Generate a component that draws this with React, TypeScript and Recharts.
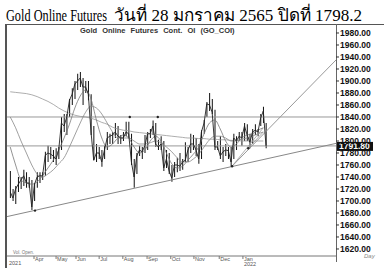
import {
  ComposedChart,
  Bar,
  Line,
  XAxis,
  YAxis,
  ReferenceLine,
  ReferenceDot,
} from 'recharts';

// half-week bars, Mar 2021 - Jan 2022 (two per week: Mon-Wed, Thu-Fri)
const highs = [
  1750, 1720, 1725, 1740, 1740, 1752, 1748, 1740, 1735, 1730, 1748, 1748, 1748, 1782, 1792, 1790, 1785, 1788, 1790, 1840,
  1845, 1845, 1870, 1888, 1900, 1912, 1915, 1905, 1900, 1900, 1878, 1825, 1795, 1790, 1785, 1792, 1815, 1812, 1815, 1830,
  1825, 1810, 1815, 1832, 1832, 1812, 1770, 1780, 1792, 1790, 1810, 1815, 1820, 1834, 1830, 1802, 1808, 1800, 1785, 1780,
  1760, 1765, 1772, 1780, 1770, 1798, 1790, 1812, 1810, 1805, 1795, 1818, 1835, 1865, 1880, 1870, 1852, 1800, 1808, 1790,
  1795, 1790, 1790, 1812, 1808, 1815, 1815, 1830, 1828, 1812, 1820, 1828, 1820, 1845, 1857, 1830,
];
const lows = [
  1705, 1700, 1695, 1715, 1720, 1725, 1722, 1722, 1685, 1700, 1722, 1730, 1735, 1742, 1765, 1770, 1765, 1760, 1770, 1785,
  1815, 1810, 1840, 1860, 1870, 1885, 1890, 1860, 1880, 1868, 1810, 1768, 1765, 1770, 1757, 1770, 1785, 1795, 1795, 1805,
  1795, 1795, 1800, 1808, 1805, 1760, 1722, 1745, 1775, 1770, 1780, 1785, 1805, 1810, 1790, 1785, 1785, 1750, 1755, 1745,
  1732, 1740, 1748, 1750, 1752, 1765, 1765, 1780, 1785, 1775, 1762, 1770, 1812, 1840, 1850, 1845, 1785, 1785, 1770, 1765,
  1775, 1770, 1758, 1770, 1785, 1800, 1792, 1800, 1800, 1788, 1795, 1810, 1808, 1825, 1830, 1788,
];
const closes = [
  1715, 1705, 1720, 1728, 1735, 1742, 1730, 1730, 1690, 1728, 1740, 1742, 1742, 1776, 1780, 1778, 1775, 1770, 1785, 1830,
  1825, 1840, 1868, 1878, 1895, 1900, 1905, 1890, 1890, 1878, 1815, 1768, 1780, 1780, 1765, 1785, 1805, 1808, 1810, 1815,
  1808, 1805, 1805, 1815, 1812, 1765, 1740, 1775, 1785, 1782, 1792, 1812, 1812, 1825, 1795, 1790, 1795, 1755, 1770, 1750,
  1738, 1760, 1760, 1758, 1765, 1768, 1785, 1795, 1795, 1785, 1770, 1815, 1830, 1862, 1860, 1848, 1790, 1790, 1775, 1782,
  1785, 1784, 1765, 1805, 1800, 1808, 1805, 1825, 1810, 1798, 1815, 1818, 1815, 1838, 1850, 1791.8,
];

// moving averages, one value per week
const maShort = [1790, 1760, 1735, 1730, 1728, 1732, 1742, 1755, 1768, 1785, 1805, 1828, 1855, 1875, 1885, 1870, 1835, 1805, 1790, 1795, 1805, 1810, 1805, 1790, 1780, 1785, 1800, 1808, 1800, 1780, 1762, 1755, 1758, 1768, 1778, 1790, 1812, 1830, 1835, 1820, 1800, 1790, 1795, 1805, 1810, 1812, 1818, 1822];
const maMid = [1840, 1822, 1800, 1780, 1760, 1745, 1740, 1745, 1752, 1762, 1772, 1790, 1810, 1830, 1848, 1858, 1855, 1845, 1830, 1815, 1805, 1805, 1805, 1800, 1795, 1795, 1797, 1800, 1797, 1790, 1782, 1772, 1765, 1765, 1770, 1778, 1790, 1802, 1808, 1808, 1805, 1800, 1800, 1803, 1805, 1808, 1812, 1815];
const maLong = [1882, 1881, 1880, 1879, 1877, 1874, 1870, 1866, 1861, 1855, 1850, 1846, 1843, 1841, 1840, 1838, 1835, 1831, 1828, 1823, 1820, 1818, 1817, 1815, 1814, 1813, 1812, 1811, 1810, 1809, 1808, 1807, 1806, 1805, 1805, 1804, 1804, 1803, 1803, 1802, 1802, 1801, 1801, 1800, 1800, 1800, 1800, 1800];

// month label positions in week units
const monthTicks = [4.8, 8.9, 12.6, 16.9, 21.3, 25.8, 30.2, 34.5, 39.2, 43.6];
const monthNames = ['Apr', 'May', 'Jun', 'Jul', 'Aug', 'Sep', 'Oct', 'Nov', 'Dec', 'Jan'];
const priceTicks = [1620, 1640, 1660, 1680, 1700, 1720, 1740, 1760, 1780, 1800, 1820, 1840, 1860, 1880, 1900, 1920, 1940, 1960, 1980];

const lastPrice = 1791.8;

const data = closes.map((c, i) => {
  const wk = Math.floor(i / 2);
  const first = i % 2 === 0;
  return {
    w: wk + (first ? 0.2 : 0.7),
    range: [lows[i], highs[i]],
    close: c,
    maShort: first ? maShort[wk] : null,
    maMid: first ? maMid[wk] : null,
    maLong: first ? maLong[wk] : null,
  };
});

const sans = 'Liberation Sans, Arial, sans-serif';

const YTick = (props: any) => {
  const { x, y, payload } = props;
  return (
    <g>
      <line x1={336} x2={339} y1={y} y2={y} stroke="#333" />
      <text x={x + 1} y={y + 3} fontSize={8.5} fontWeight="bold" fontFamily={sans} fill="#111">
        {payload.value.toFixed(2)}
      </text>
    </g>
  );
};

const XTick = (props: any) => {
  const { x, payload } = props;
  const name = monthNames[monthTicks.indexOf(payload.value)];
  return (
    <g>
      <line x1={x - 1} x2={x - 1} y1={256} y2={259} stroke="#777" />
      <text x={x} y={261} fontSize={5.5} fontFamily={sans} fill="#555">
        {name}
      </text>
      {name === 'Jan' && (
        <text x={x} y={266} fontSize={5.5} fontFamily={sans} fill="#555">2022</text>
      )}
    </g>
  );
};

const LastBox = (props: any) => {
  const { viewBox } = props;
  const y = viewBox.y;
  return (
    <g>
      <rect x={337} y={y - 4} width={36} height={9} fill="#111" />
      <text x={339} y={y + 3.5} fontSize={8.5} fontWeight="bold" fontFamily={sans} fill="#fff">
        {lastPrice.toFixed(2)}
      </text>
    </g>
  );
};

export default function App() {
  return (
    <div style={{ position: 'absolute', left: 0, top: 0, width: 384, height: 268, background: '#fff', overflow: 'hidden' }}>
      <svg width={384} height={26} style={{ position: 'absolute', left: 0, top: 0 }}>
        <text y={21} fontSize={17} fontFamily="Liberation Serif, Times New Roman, serif" fill="#000">
          <tspan x={6} textLength={101} lengthAdjust="spacingAndGlyphs">Gold Online Futures</tspan>
          <tspan x={114} textLength={248} lengthAdjust="spacingAndGlyphs">วันที่ 28 มกราคม 2565 ปิดที่ 1798.2</tspan>
        </text>
      </svg>
      <div style={{ position: 'absolute', left: 7, top: 24, width: 377, height: 1, background: '#555' }} />
      <div style={{ position: 'absolute', left: 5, top: 24, width: 2, height: 244, background: '#555' }} />
      <div style={{ position: 'absolute', left: 336, top: 24, width: 1, height: 238, background: '#666' }} />
      <div style={{ position: 'absolute', left: 80, top: 26, fontFamily: sans, fontSize: 7.5, fontWeight: 'bold', wordSpacing: 3, color: '#333', whiteSpace: 'nowrap' }}>
        Gold Online Futures Cont. OI (GO_COI)
      </div>
      <div style={{ position: 'absolute', left: 13, top: 250, fontFamily: sans, fontSize: 4.5, color: '#777' }}>Vol. Open.</div>
      <div style={{ position: 'absolute', left: 9, top: 260, fontFamily: sans, fontSize: 5.5, color: '#555' }}>2021</div>
      <div style={{ position: 'absolute', left: 364, top: 253, fontFamily: sans, fontSize: 6, fontStyle: 'italic', color: '#888' }}>Day</div>
      <div style={{ position: 'absolute', left: 0, top: 0 }}>
        <ComposedChart width={384} height={268} data={data} margin={{ top: 27, right: 0, bottom: 0, left: 7 }}>
          <XAxis
            dataKey="w"
            type="number"
            domain={[-0.4, 60.7]}
            ticks={monthTicks}
            interval={0}
            tick={<XTick />}
            height={12}
            axisLine={{ stroke: '#777' }}
            tickLine={false}
            allowDataOverflow
          />
          <YAxis
            orientation="right"
            type="number"
            domain={[1608.3, 1990]}
            ticks={priceTicks}
            interval={0}
            tick={<YTick />}
            width={48}
            tickSize={3}
            tickMargin={0}
            axisLine={false}
            tickLine={false}
            allowDataOverflow
          />
          <ReferenceLine y={1840} stroke="#999" strokeWidth={1} />
          <ReferenceLine y={lastPrice} stroke="#999" strokeWidth={1} label={<LastBox />} />
          <ReferenceLine segment={[{ x: -0.4, y: 1674 }, { x: 60.7, y: 1796 }]} stroke="#888" strokeWidth={1} />
          <ReferenceLine segment={[{ x: 41.4, y: 1758 }, { x: 60.7, y: 1935 }]} stroke="#999" strokeWidth={1} />
          <ReferenceLine segment={[{ x: 41.4, y: 1758 }, { x: 47.2, y: 1822 }]} stroke="#999" strokeWidth={0.8} />
          <ReferenceLine segment={[{ x: 44.4, y: 1788 }, { x: 47.2, y: 1815 }]} stroke="#999" strokeWidth={0.8} />
          <Line dataKey="maLong" type="monotone" stroke="#999" strokeWidth={0.8} dot={false} connectNulls isAnimationActive={false} />
          <Line dataKey="maMid" type="monotone" stroke="#888" strokeWidth={0.8} dot={false} connectNulls isAnimationActive={false} />
          <Line dataKey="maShort" type="monotone" stroke="#777" strokeWidth={0.8} dot={false} connectNulls isAnimationActive={false} />
          <Bar dataKey="range" barSize={1} fill="#111" isAnimationActive={false} />
          <Line dataKey="close" type="linear" stroke="#222" strokeWidth={0.9} dot={false} isAnimationActive={false} />
          <ReferenceDot x={22.4} y={1840} r={1.2} fill="#222" stroke="none" />
          <ReferenceDot x={27.6} y={1840} r={1.2} fill="#222" stroke="none" />
          <ReferenceDot x={4.8} y={1684} r={1.2} fill="#222" stroke="none" />
          <ReferenceDot x={41.4} y={1758} r={1.2} fill="#222" stroke="none" />
          <ReferenceDot x={44.4} y={1788} r={1.2} fill="#222" stroke="none" />
        </ComposedChart>
      </div>
    </div>
  );
}
